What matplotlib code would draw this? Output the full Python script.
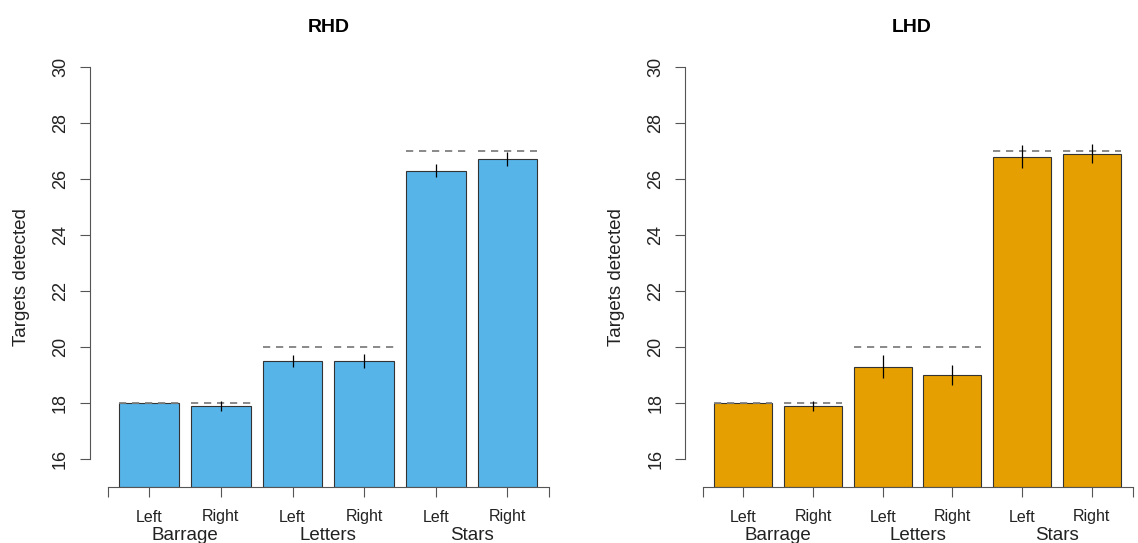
import matplotlib
matplotlib.use("Agg")
import matplotlib.pyplot as plt
import numpy as np

plt.rcParams['font.family'] = ['Liberation Sans', 'DejaVu Sans']

# ---- data ----
groups = ["Barrage", "Letters", "Stars"]
sides = ["Left", "Right"]
panels = ["RHD", "LHD"]
rhd_means = [18.0, 17.9, 19.5, 19.5, 26.3, 26.7]
rhd_err = [0.0, 0.17, 0.22, 0.25, 0.24, 0.25]
lhd_means = [18.0, 17.9, 19.3, 19.0, 26.8, 26.9]
lhd_err = [0.0, 0.17, 0.40, 0.36, 0.40, 0.34]
max_scores = [18, 18, 20, 20, 27, 27]
colors = ["#56B4E9", "#E69F00"]
yticks = [16, 18, 20, 22, 24, 26, 28, 30]
ylabel = "Targets detected"

W, H = 1138, 543
fig = plt.figure(figsize=(W / 100, H / 100), dpi=100)

# layout in pixels
layouts = [
    dict(left=90.0, x0=107.5, unit=59.7, right=567.0),
    dict(left=685.4, x0=702.6, unit=58.1, right=1138.0),
]
top_px, bot_px = 67.0, 487.0

axis_col = "#555555"
for k, (name, means, errs, col, lay) in enumerate(zip(
        panels, [rhd_means, lhd_means], [rhd_err, lhd_err], colors, layouts)):
    ax = fig.add_axes([lay['left'] / W, (H - bot_px) / H,
                       (lay['right'] - lay['left']) / W, (bot_px - top_px) / H])
    xl = (lay['left'] - lay['x0']) / lay['unit']
    xr = (lay['right'] - lay['x0']) / lay['unit']
    ax.set_xlim(xl, xr)
    ax.set_ylim(15, 30)
    n = len(means)
    xs = 0.7 + 1.2 * np.arange(n)
    xend = 1.2 * n + 0.2
    ax.bar(xs, np.array(means) - 15, bottom=15, width=1.0, color=col,
           edgecolor="#333333", linewidth=0.8, zorder=2)
    ax.errorbar(xs, means, yerr=errs, fmt='none', ecolor='black',
                elinewidth=0.9, capsize=0, zorder=4)
    for x, m in zip(xs, max_scores):
        ax.plot([x - 0.5, x + 0.5], [m, m], color="#808080", lw=1.3,
                dashes=(4, 3.2), zorder=3)
    # spines
    for s in ['top', 'right']:
        ax.spines[s].set_visible(False)
    ax.spines['left'].set_bounds(16, 30)
    ax.spines['bottom'].set_bounds(0, xend)
    for s in ['left', 'bottom']:
        ax.spines[s].set_color(axis_col)
        ax.spines[s].set_linewidth(0.8)
    ax.set_yticks(yticks)
    ax.set_yticklabels([str(t) for t in yticks], rotation=90, va='center')
    ax.set_xticks([0] + list(xs) + [xend])
    ax.set_xticklabels([])
    ax.tick_params(axis='both', direction='out', length=7.2, width=0.8,
                   color=axis_col, labelsize=13, labelcolor='#222222')
    ax.tick_params(axis='y', pad=8)
    # side labels and group labels
    tr = ax.get_xaxis_transform()
    for i, x in enumerate(xs):
        ax.annotate(sides[i % 2], xy=(x, 0), xycoords=tr, xytext=(0, -30),
                    textcoords='offset pixels', ha='center', va='center',
                    fontsize=11.5, color='#222222', annotation_clip=False)
    for g, gname in enumerate(groups):
        gx = (xs[2 * g] + xs[2 * g + 1]) / 2
        ax.annotate(gname, xy=(gx, 0), xycoords=tr, xytext=(0, -49),
                    textcoords='offset pixels', ha='center', va='center',
                    fontsize=13.5, color='#222222', annotation_clip=False)
    # title
    cx = (lay['left'] + min(lay['right'], lay['x0'] + 7.696 * lay['unit'])) / 2
    fig.text(cx / W, 1 - 27 / H, name, ha='center', va='center',
             fontsize=14, fontweight='bold')
    # y label
    fig.text((lay['left'] - 68.5) / W, 1 - 277 / H, ylabel, rotation=90,
             ha='center', va='center', fontsize=13.5, color='#222222')

fig.savefig("out.png", dpi=100)
